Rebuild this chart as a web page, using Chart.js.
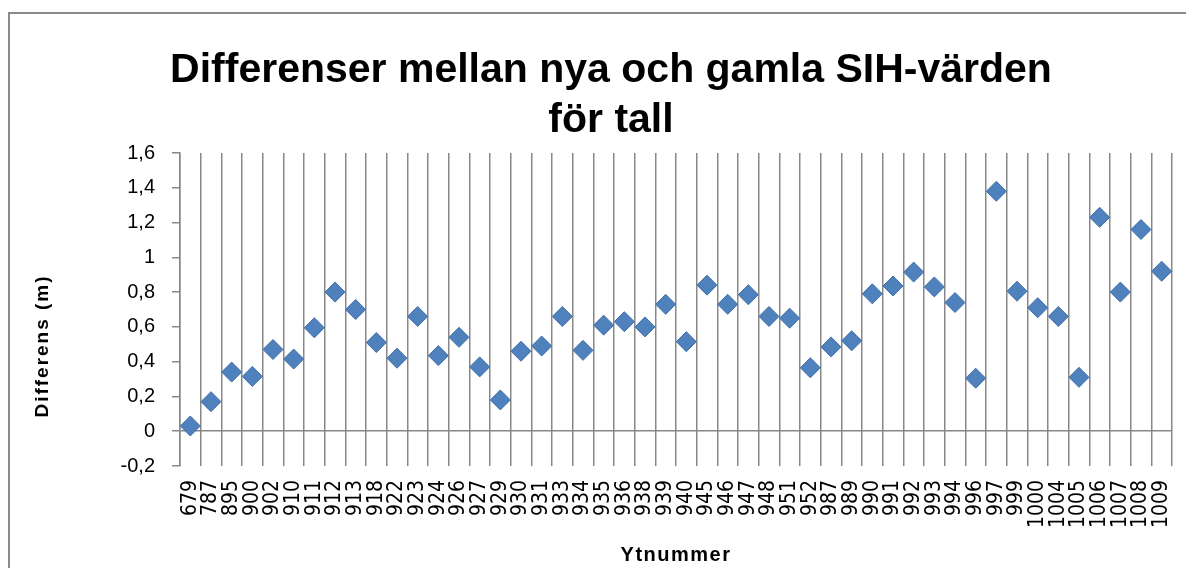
<!DOCTYPE html>
<html>
<head>
<meta charset="utf-8">
<script src="https://cdn.jsdelivr.net/npm/chart.js@4/dist/chart.umd.min.js"></script>
<style>
  html, body { margin: 0; padding: 0; background: #fff; overflow: hidden; width: 1186px; height: 568px; }
  #wrap { position: relative; width: 1186px; height: 568px; overflow: hidden; }
  #c { position: absolute; left: 0; top: 0; }
  #frame { position: absolute; left: 8px; top: 12px; width: 2000px; height: 2000px;
           border-left: 2px solid #8a8a8a; border-top: 2px solid #8a8a8a; pointer-events: none; }
</style>
</head>
<body>
<div id="wrap">
  <canvas id="c" width="1222" height="568"></canvas>
  <div id="frame"></div>
</div>
<script>
const chartTitle = ['Differenser mellan nya och gamla SIH-värden', 'för tall'];
const xAxisTitle = 'Ytnummer';
const yAxisTitle = 'Differens (m)';
const categories = ['679','787','895','900','902','910','911','912','913','918','922','923','924','926','927','929','930','931','933','934','935','936','938','939','940','945','946','947','948','951','952','987','989','990','991','992','993','994','996','997','999','1000','1004','1005','1006','1007','1008','1009'];
const differens = [0.03,0.17,0.34,0.315,0.47,0.415,0.595,0.80,0.70,0.51,0.42,0.66,0.435,0.54,0.37,0.18,0.46,0.49,0.66,0.465,0.61,0.63,0.60,0.73,0.515,0.84,0.73,0.785,0.66,0.65,0.365,0.485,0.52,0.79,0.835,0.915,0.83,0.74,0.305,1.38,0.805,0.71,0.66,0.31,1.23,0.80,1.16,0.92];
const yTickLabels = ['-0,2','0','0,2','0,4','0,6','0,8','1','1,2','1,4','1,6'];

const GRID = '#888888';

const axisTitlePlugin = {
  id: 'axisTitles',
  afterDraw(chart) {
    const ctx = chart.ctx;
    const area = chart.chartArea;
    ctx.save();
    ctx.fillStyle = '#000';
    ctx.textAlign = 'center';
    ctx.textBaseline = 'middle';
    ctx.save();
    ctx.font = 'bold 19px "Liberation Sans", Arial, sans-serif';
    ctx.letterSpacing = '2px';
    ctx.translate(43, 346);
    ctx.rotate(-Math.PI / 2);
    ctx.fillText(yAxisTitle, 0, 0);
    ctx.restore();
    ctx.font = 'bold 20px "Liberation Sans", Arial, sans-serif';
    ctx.letterSpacing = '1.5px';
    ctx.fillText(xAxisTitle, (area.left + area.right) / 2, 555);
    ctx.restore();
  }
};

new Chart(document.getElementById('c'), {
  type: 'line',
  data: {
    labels: categories,
    datasets: [{
      data: differens,
      showLine: false,
      pointStyle: 'rectRot',
      pointRadius: 10,
      pointHoverRadius: 10,
      pointBackgroundColor: '#4f81bd',
      pointBorderColor: '#3f6ea8',
      pointBorderWidth: 1
    }]
  },
  options: {
    responsive: false,
    animation: false,
    devicePixelRatio: 1,
    layout: { padding: { left: 50, right: 50, top: 0, bottom: 0 } },
    plugins: {
      legend: { display: false },
      tooltip: { enabled: false },
      title: {
        display: true,
        text: chartTitle,
        color: '#000',
        font: { family: '"Liberation Sans", Arial, sans-serif', size: 41, weight: 'bold', lineHeight: '50px' },
        padding: { top: 46, bottom: 7 }
      }
    },
    scales: {
      x: {
        type: 'category',
        offset: true,
        grid: { display: true, offset: true, color: GRID, lineWidth: 1.5, drawTicks: false },
        border: { display: false },
        ticks: {
          autoSkip: false, minRotation: 90, maxRotation: 90, padding: 14,
          color: '#000',
          font: { family: '"DejaVu Sans Condensed", "DejaVu Sans", sans-serif', size: 21 }
        },
        title: { display: false },
        afterFit(scale) { scale.height = 102; }
      },
      y: {
        min: -0.2, max: 1.6,
        ticks: {
          stepSize: 0.2, padding: 17, color: '#000',
          font: { family: '"Liberation Sans", Arial, sans-serif', size: 20 },
          callback: (v, i) => yTickLabels[i]
        },
        grid: {
          color: ctx => (ctx.tick && Math.abs(ctx.tick.value) < 1e-9) ? GRID : 'rgba(0,0,0,0)',
          tickColor: GRID, tickLength: 8, lineWidth: 1.5, drawTicks: true
        },
        border: { display: true, color: GRID, width: 1.5 },
        afterFit(scale) { scale.width = 130; }
      }
    }
  },
  plugins: [axisTitlePlugin]
});
</script>
</body>
</html>
